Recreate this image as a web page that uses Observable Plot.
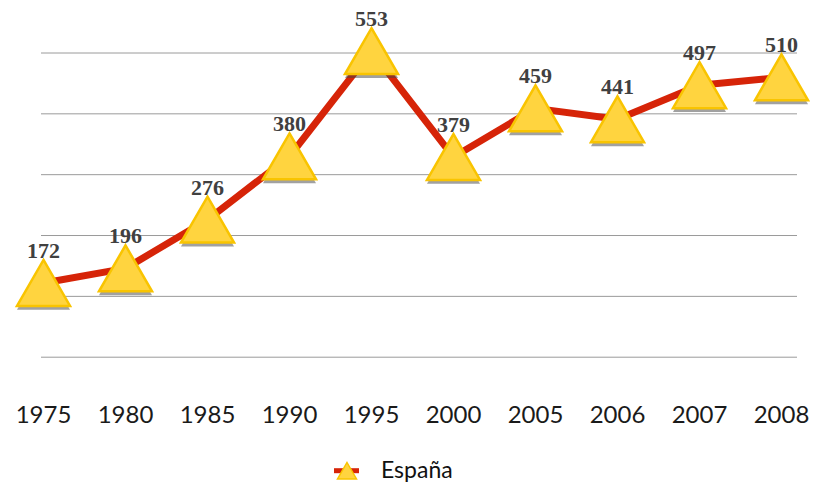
<!DOCTYPE html>
<html>
<head>
<meta charset="utf-8">
<script src="https://cdn.jsdelivr.net/npm/d3@7"></script>
<script src="https://cdn.jsdelivr.net/npm/@observablehq/plot@0.6"></script>
<style>
  html, body { margin: 0; padding: 0; background: #ffffff; }
  #chart { width: 813px; height: 488px; position: relative; overflow: hidden; }
  g[aria-label="shadow"] { filter: url(#blurShadow); }
  g[aria-label="lineshadow"] { filter: url(#blurLine); }
  #legend { position: absolute; left: 0; top: 445px; width: 813px; height: 43px; }
</style>
</head>
<body>
<svg width="0" height="0" style="position:absolute">
  <defs>
    <filter id="blurShadow" x="-50%" y="-50%" width="200%" height="200%"><feGaussianBlur stdDeviation="2.5"/></filter>
    <filter id="blurLine" x="-10%" y="-50%" width="120%" height="200%"><feGaussianBlur stdDeviation="2"/></filter>
  </defs>
</svg>
<div id="chart"></div>
<script>
const years = ["1975", "1980", "1985", "1990", "1995", "2000", "2005", "2006", "2007", "2008"];
const values = [172, 196, 276, 380, 553, 379, 459, 441, 497, 510];
const gridValues = [50, 150, 250, 350, 450, 550];
const seriesName = "España";

const data = years.map((y, i) => ({year: y, value: values[i]}));

const plot = Plot.plot({
  width: 813,
  height: 445,
  marginLeft: 41,
  marginRight: 16,
  marginTop: 0,
  marginBottom: 50,
  style: {background: "transparent", overflow: "visible"},
  x: {type: "point", domain: years, range: [41, 782], padding: 0, label: null},
  y: {type: "linear", domain: [50, 550], range: [356.7, 52.5], axis: null},
  marks: [
    Plot.gridY(gridValues, {stroke: "#9a9a9a", strokeOpacity: 1, strokeWidth: 1}),
    Plot.axisX({tickSize: 0, tickPadding: 10, fontSize: 24, fontFamily: "Lato", fill: "#1a1a1a", label: null}),
    Plot.line(data, {x: "year", y: "value", stroke: "#888", strokeOpacity: 0.4, strokeWidth: 7, dy: 4, ariaLabel: "lineshadow"}),
    Plot.line(data, {x: "year", y: "value", stroke: "#D62408", strokeWidth: 7, strokeLinejoin: "round"}),
    Plot.dot(data, {x: "year", y: "value", symbol: "triangle", r: 19.7, dy: 11.5, fill: "#444", fillOpacity: 0.5, stroke: "none", ariaLabel: "shadow"}),
    Plot.dot(data, {x: "year", y: "value", symbol: "triangle", r: 19.7, dy: 7.6, fill: "#FFD43F", stroke: "#F9C400", strokeWidth: 2.5}),
    Plot.text(data, {x: "year", y: "value", text: d => String(d.value), dy: -25, lineAnchor: "bottom", fontSize: 22, fontFamily: "Liberation Serif", fontWeight: "bold", fill: "#404040"})
  ]
});
document.getElementById("chart").appendChild(plot);

// legend below the plot
const leg = document.createElement("div");
leg.id = "legend";
leg.innerHTML = `<svg width="813" height="43" style="position:absolute;left:0;top:0">
  <line x1="334" x2="359" y1="25.7" y2="25.7" stroke="#D62408" stroke-width="5"/>
  <path d="M347,17.5 L356.5,34 L337.5,34 Z" fill="#FFD43F" stroke="#F9C400" stroke-width="1.5"/>
  <text x="381" y="33" font-family="Lato" font-size="23" fill="#111">${seriesName}</text>
</svg>`;
document.getElementById("chart").appendChild(leg);
</script>
</body>
</html>
